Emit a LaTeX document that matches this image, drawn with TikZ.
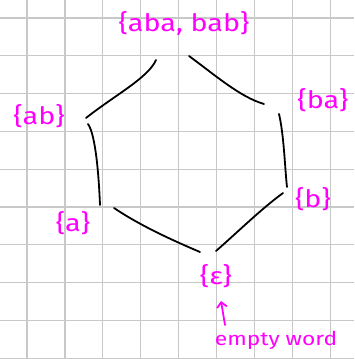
\documentclass[tikz,border=0pt]{standalone}
\usepackage{fontspec}
\setmainfont{Fira Sans}
\usetikzlibrary{arrows.meta}
\definecolor{ink}{RGB}{255,0,255}
\definecolor{gridc}{RGB}{200,200,200}
\tikzset{
  lbl/.style={text=ink, font=\fontsize{24}{24}\selectfont, inner sep=0pt},
  edge/.style={draw=black, line width=1.8pt, line cap=round},
  gridline/.style={draw=gridc, line width=1.3pt}
}
\newcommand{\wide}[1]{\scalebox{1.2}[1]{#1}}
\begin{document}
\begin{tikzpicture}[x=1pt,y=-1pt]
\useasboundingbox (0,0) rectangle (354,359);
\fill[white] (0,0) rectangle (354,359);
% grid
\foreach \i in {0,...,8} {
  \draw[gridline] ({27+37.9*\i},0) -- ({27+37.9*\i},359);
}
\foreach \j in {0,...,9} {
  \draw[gridline] (0,{18+37.8*\j}) -- (354,{18+37.8*\j});
}
% labels
\node[lbl] (top) at (184,23) {\wide{\{aba, bab\}}};
\node[lbl] (ab) at (39,116) {\wide{\{ab\}}};
\node[lbl] (ba) at (323,100) {\wide{\{ba\}}};
\node[lbl] (a) at (73,223) {\wide{\{a\}}};
\node[lbl] (b) at (313,199) {\wide{\{b\}}};
\node[lbl] (eps) at (216,276) {\wide{\{ε\}}};
\node[lbl, font=\fontsize{19}{19}\selectfont] (ew) at (276,340) {\wide{empty word}};
% endpoints
\coordinate (t1) at (156,60);
\coordinate (l1) at (86,118);
\coordinate (t2) at (189,56);
\coordinate (r1) at (264,104);
\coordinate (l2) at (88,124);
\coordinate (l3) at (100,205);
\coordinate (r2) at (279,114);
\coordinate (r3) at (287,187);
\coordinate (a1) at (114,208);
\coordinate (e1) at (200,252);
\coordinate (e2) at (216,251);
\coordinate (b1) at (283,193);
% edges
\draw[edge] (t1) .. controls (148,78) and (115,95) .. (l1);
\draw[edge] (t2) .. controls (215,75) and (240,97) .. (r1);
\draw[edge] (l2) .. controls (96,135) and (99,180) .. (l3);
\draw[edge] (r2) .. controls (284,135) and (285,170) .. (r3);
\draw[edge] (a1) .. controls (135,222) and (160,235) .. (e1);
\draw[edge] (e2) .. controls (240,230) and (260,210) .. (b1);
% arrow
\coordinate (arrowtail) at (225,325);
\coordinate (arrowhead) at (221,301);
\draw[draw=ink, line width=1.8pt, line cap=round, -{Straight Barb[length=5pt,width=10pt]}] (arrowtail) -- (arrowhead);
\end{tikzpicture}
\end{document}
